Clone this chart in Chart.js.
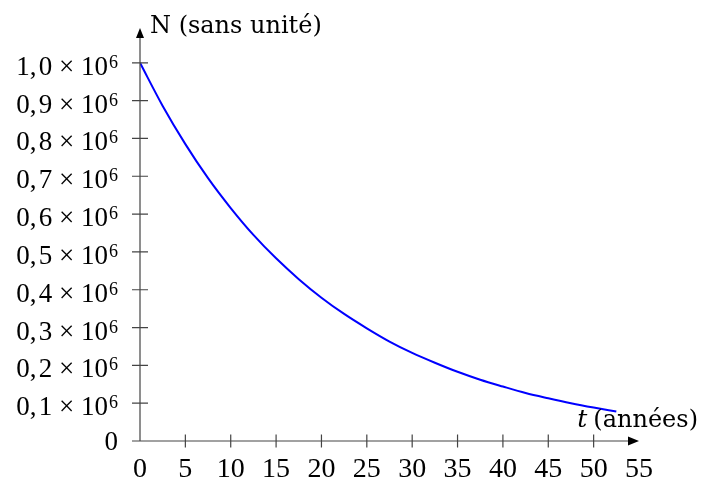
<!DOCTYPE html>
<html>
<head>
<meta charset="utf-8">
<script src="https://cdn.jsdelivr.net/npm/chart.js@4"></script>
<style>
  html, body { margin: 0; padding: 0; background: #fff; }
  #wrap { width: 703px; height: 479px; }
</style>
</head>
<body>
<div id="wrap"><canvas id="grafik" width="703" height="479"></canvas></div>
<script>
// t in years, N
const years = [0, 2.5, 5, 7.5, 10, 12.5, 15, 17.5, 20, 22.5, 25, 27.5, 30, 32.5, 35, 37.5, 40, 42.5, 45, 47.5, 50, 52.5];
const population = [1000000, 886000, 785000, 695000, 616000, 545000, 483000, 428000, 379000, 336000, 298000, 263000, 233000, 207000, 183000, 162000, 144000, 127000, 113000, 100000, 88500, 78000];
const yTicks = [0, 100000, 200000, 300000, 400000, 500000, 600000, 700000, 800000, 900000, 1000000];
const xTicks = [0, 5, 10, 15, 20, 25, 30, 35, 40, 45, 50, 55];
const xTitle = "(années)";
const yTitle = "N (sans unité)";

const numFont = "'Liberation Serif', serif";
const txtFont = "'DejaVu Serif', serif";

// axes, ticks crossing the axis, arrows, tick labels and axis titles
const axesPlugin = {
  id: "axes",
  afterDraw(chart) {
    const c = chart.ctx;
    const xs = chart.scales.x, ys = chart.scales.y;
    const x0 = xs.getPixelForValue(0), y0 = ys.getPixelForValue(0);
    const xEnd = xs.right, yEnd = ys.top + 3;
    c.save();
    c.strokeStyle = "#444";
    c.lineWidth = 1.2;
    c.beginPath();
    c.moveTo(x0, y0); c.lineTo(xEnd - 6, y0);
    c.moveTo(x0, y0); c.lineTo(x0, yEnd + 6);
    yTicks.forEach(v => {
      const p = ys.getPixelForValue(v);
      c.moveTo(x0 - 8, p); c.lineTo(x0 + 8, p);
    });
    xTicks.forEach(v => {
      if (v === 0 || v >= 55) return;
      const p = xs.getPixelForValue(v);
      c.moveTo(p, y0 - 6.5); c.lineTo(p, y0 + 6.5);
    });
    c.stroke();
    c.fillStyle = "#000";
    c.beginPath();
    c.moveTo(xEnd, y0); c.lineTo(xEnd - 11, y0 - 4.5); c.lineTo(xEnd - 11, y0 + 4.5); c.closePath();
    c.moveTo(x0, yEnd); c.lineTo(x0 - 4, yEnd + 10); c.lineTo(x0 + 4, yEnd + 10); c.closePath();
    c.fill();

    // x tick labels
    c.textBaseline = "alphabetic";
    c.textAlign = "center";
    c.font = "28px " + numFont;
    xTicks.forEach(v => {
      c.fillText(String(v), xs.getPixelForValue(v), 477);
    });

    // y tick labels with superscript exponent
    const right = 118;
    yTicks.forEach(v => {
      const p = ys.getPixelForValue(v);
      c.textAlign = "right";
      if (v === 0) {
        c.font = "27px " + numFont;
        c.fillText("0", right, p + 9);
        return;
      }
      c.font = "18px " + numFont;
      c.fillText("6", right, p + 5);
      const w6 = c.measureText("6").width;
      c.font = "27px " + numFont;
      const m = (v / 1e6).toFixed(1).replace(".", ",\u200a") + " \u00d7 10";
      c.fillText(m, right - w6 - 1, p + 12);
    });

    // axis titles
    c.font = "24px " + txtFont;
    c.textAlign = "left";
    c.fillText(yTitle, x0 + 10, 33);
    c.textAlign = "right";
    c.fillText(xTitle, 698, 427);
    const w = c.measureText(xTitle).width;
    c.font = "italic 25px " + txtFont;
    c.fillText("t", 698 - w - 6, 427);
    c.restore();
  }
};

new Chart(document.getElementById("grafik"), {
  type: "line",
  data: {
    datasets: [{
      data: years.map((t, i) => ({ x: t, y: population[i] })),
      borderColor: "#0000ff",
      borderWidth: 2,
      pointRadius: 0,
      fill: false,
      cubicInterpolationMode: "monotone"
    }]
  },
  options: {
    responsive: false,
    animation: false,
    layout: { padding: { top: 25, right: 64, left: 0, bottom: 0 } },
    scales: {
      x: {
        type: "linear",
        min: 0,
        max: 55,
        grid: { display: false },
        border: { display: false },
        afterFit: s => { s.height = 38; },
        ticks: { display: false, stepSize: 5 }
      },
      y: {
        type: "linear",
        min: 0,
        max: 1100000,
        grid: { display: false },
        border: { display: false },
        afterFit: s => { s.width = 140; },
        ticks: { display: false, stepSize: 100000 }
      }
    },
    plugins: {
      legend: { display: false },
      tooltip: { enabled: false }
    }
  },
  plugins: [axesPlugin]
});
</script>
</body>
</html>
